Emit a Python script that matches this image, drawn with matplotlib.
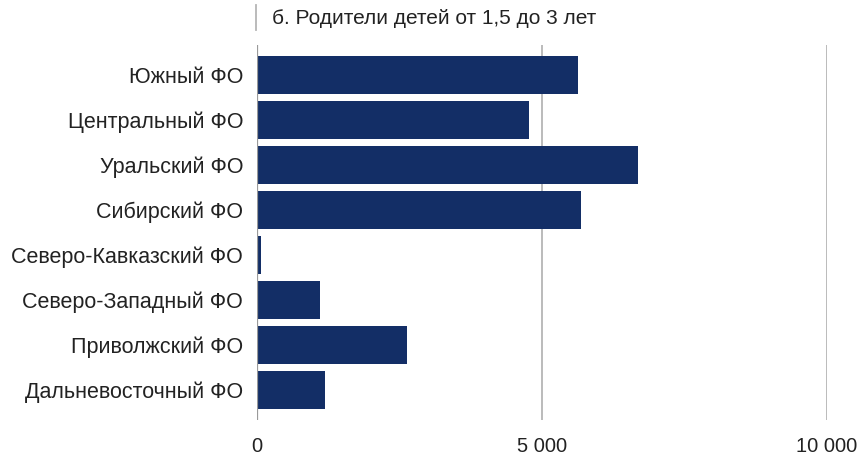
import matplotlib.pyplot as plt
from matplotlib.ticker import FuncFormatter

regions = ['Южный ФО', 'Центральный ФО', 'Уральский ФО', 'Сибирский ФО',
           'Северо-Кавказский ФО', 'Северо-Западный ФО', 'Приволжский ФО',
           'Дальневосточный ФО']
values = [5630, 4770, 6690, 5690, 70, 1110, 2630, 1200]
xticks = [0, 5000, 10000]
title = 'б. Родители детей от 1,5 до 3 лет'

plt.rcParams['font.family'] = ['Liberation Sans', 'DejaVu Sans']

fig = plt.figure(figsize=(8.6, 4.55), dpi=100)
W, H = 860, 455
ax = fig.add_axes([257 / W, 1 - 420 / H, (827 - 257) / W, (420 - 45) / H])

ypos = list(range(len(regions)))
ax.barh(ypos, values, height=0.84, color='#132E66', zorder=3)
ax.set_xlim(0, 10000)
ax.set_ylim(len(regions) - 1 + 30 / 45, -30 / 45)

ax.set_xticks(xticks)
ax.xaxis.set_major_formatter(FuncFormatter(lambda v, p: f'{int(v):,}'.replace(',', ' ')))
ax.set_yticks(ypos)
ax.set_yticklabels(regions)
ax.grid(axis='x', color='#b5b5b5', linewidth=1.3, zorder=0)
ax.axvline(0, color='#9a9a9a', linewidth=1.6, zorder=4)
for s in ax.spines.values():
    s.set_visible(False)
ax.tick_params(axis='both', length=0, colors='#222222')
ax.tick_params(axis='x', pad=12, labelsize=14.5)
ax.tick_params(axis='y', pad=10, labelsize=15.5)

# title with a small separator bar before it
fig.add_artist(plt.Line2D([256 / W, 256 / W], [1 - 5 / H, 1 - 30 / H], color='#b5b5b5', linewidth=1.3))
fig.text(272 / W, 1 - 18 / H, title, fontsize=15, color='#222222', va='center', ha='left')

fig.savefig('out.png', dpi=100)
